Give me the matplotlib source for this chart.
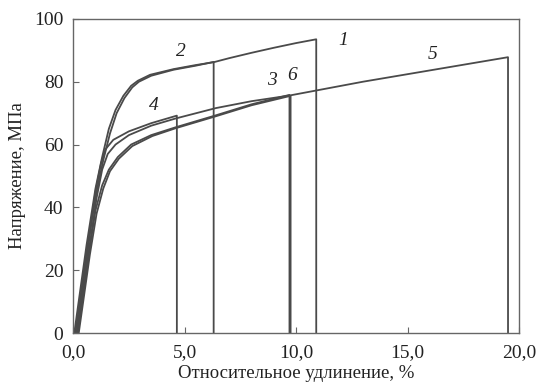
import numpy as np
import matplotlib.pyplot as plt

plt.rcParams['font.family'] = ['Liberation Serif', 'DejaVu Serif']

# strain, % / stress, MPa
eps1 = [0.05, 0.6, 1.0, 1.3, 1.6, 1.9, 2.25, 2.6, 2.9, 3.45, 4.5, 5.5, 6.3, 7.0, 8.0, 9.0, 10.0, 10.9, 10.9]
sig1 = [0, 28, 46, 56, 65, 71, 75.5, 78.7, 80.3, 82.2, 84.0, 85.3, 86.2, 87.5, 89.2, 90.8, 92.3, 93.5, 0]

eps2 = [0.1, 0.65, 1.05, 1.35, 1.65, 1.95, 2.3, 2.65, 2.95, 3.5, 4.5, 5.5, 6.3, 6.3]
sig2 = [0, 28, 45, 55, 63.5, 70, 74.8, 78.2, 80.0, 81.9, 83.8, 85.1, 86.3, 0]

eps3 = [0.2, 0.7, 1.0, 1.3, 1.6, 2.0, 2.6, 3.5, 4.6, 6.4, 8.0, 9.7, 9.7]
sig3 = [0, 25, 39, 47, 52, 56, 60, 63, 65.5, 69.3, 72.8, 75.8, 0]

eps4 = [0.15, 0.65, 1.0, 1.25, 1.45, 1.8, 2.5, 3.5, 4.65, 4.65]
sig4 = [0, 26, 45, 54, 58.5, 61.5, 64.2, 66.8, 69.2, 0]

eps5 = [0.2, 0.7, 1.05, 1.3, 1.55, 1.9, 2.5, 3.5, 4.6, 6.4, 8.0, 9.7, 13.0, 16.5, 19.5, 19.5]
sig5 = [0, 26, 43, 52, 57, 60, 63, 66, 68.3, 71.6, 73.8, 75.6, 80.0, 84.2, 87.8, 0]

eps6 = [0.25, 0.75, 1.05, 1.35, 1.65, 2.05, 2.65, 3.55, 4.6, 6.4, 8.0, 9.75, 9.75]
sig6 = [0, 25, 38, 46, 51.5, 55.5, 59.5, 62.7, 65.2, 69.0, 72.5, 75.5, 0]

labels = ['1', '2', '3', '4', '5', '6']
label_x = [12.1, 4.85, 8.9, 3.6, 16.1, 9.8]
label_y = [93.0, 89.5, 80.5, 72.5, 88.5, 82.0]

fig = plt.figure(figsize=(5.38, 3.85), dpi=100)
ax = fig.add_axes([0.136, 0.135, 0.829, 0.816])

col = '#4a4a4a'
for e, s in [(eps1, sig1), (eps2, sig2), (eps3, sig3), (eps4, sig4), (eps5, sig5), (eps6, sig6)]:
    ax.plot(e, s, color=col, lw=1.3)

for t, x, y in zip(labels, label_x, label_y):
    ax.text(x, y, t, fontsize=14, style='italic', color='#222222', ha='center', va='center')

ax.set_xlim(0, 20)
ax.set_ylim(0, 100)
ax.set_xticks([0, 5, 10, 15, 20])
ax.set_xticklabels(['0,0', '5,0', '10,0', '15,0', '20,0'])
ax.set_yticks([0, 20, 40, 60, 80, 100])
ax.tick_params(direction='in', length=4, colors='#666666', labelcolor='#222222', labelsize=14)
ax.tick_params(axis='x', pad=8)
ax.tick_params(axis='y', pad=7)
for sp in ax.spines.values():
    sp.set_color('#666666')
    sp.set_linewidth(1.0)

ax.set_xlabel('Относительное удлинение, %', fontsize=13.5, color='#222222', labelpad=3)
ax.set_ylabel('Напряжение, МПа', fontsize=13.5, color='#222222', labelpad=6)

fig.savefig('out.png', dpi=100)
